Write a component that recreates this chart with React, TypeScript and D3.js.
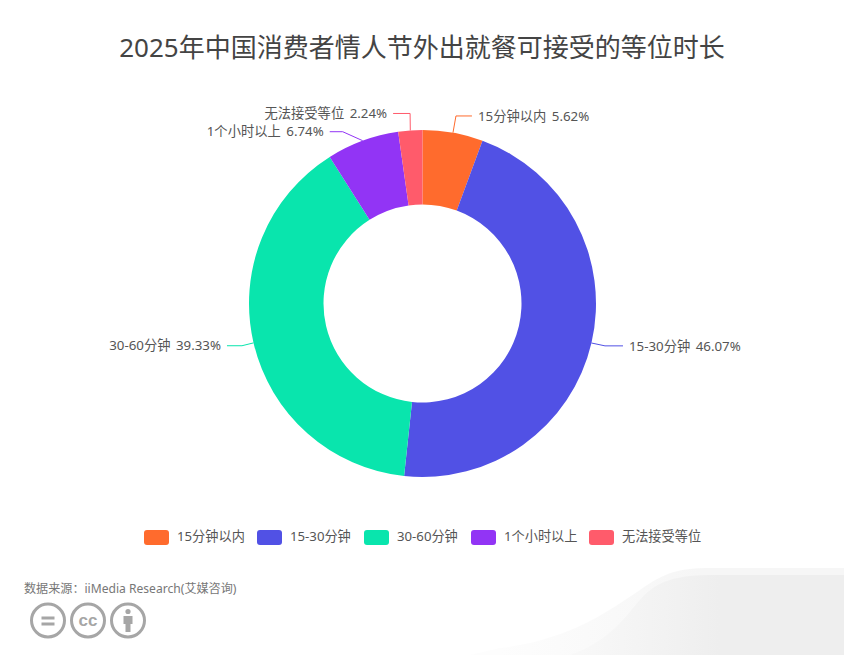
import { useEffect, useRef } from "react";
import * as d3 from "d3";

const title = "2025年中国消费者情人节外出就餐可接受的等位时长";
const source = "数据来源：iiMedia Research(艾媒咨询)";
const categories = ["15分钟以内", "15-30分钟", "30-60分钟", "1个小时以上", "无法接受等位"];
const shares = [5.62, 46.07, 39.33, 6.74, 2.24];
const colors = ["#ff6b2d", "#5151e5", "#09e5ad", "#9234f5", "#ff5b6b"];

export default function App() {
  const ref = useRef<SVGSVGElement>(null);

  useEffect(() => {
    if (!ref.current) return;
    d3.select(document.body).style("margin", "0");
    const svg = d3.select(ref.current);
    svg.selectAll("*").remove();

    const font = "'Noto Sans', 'Noto Sans CJK SC', sans-serif";
    const width = 844;
    const height = 655;
    const cx = 422.5;
    const cy = 303.5;
    const outer = 173.5;
    const inner = 99;

    svg.append("rect").attr("width", width).attr("height", height).attr("fill", "#fff");

    const defs = svg.append("defs");
    const grad = (id: string, from: string, to: string, x1: number, x2: number) => {
      const lg = defs
        .append("linearGradient")
        .attr("id", id)
        .attr("gradientUnits", "userSpaceOnUse")
        .attr("x1", x1)
        .attr("x2", x2)
        .attr("y1", 0)
        .attr("y2", 0);
      lg.append("stop").attr("offset", 0).attr("stop-color", from);
      lg.append("stop").attr("offset", 1).attr("stop-color", to);
    };
    grad("waveOuter", "#fdfdfd", "#f6f6f6", 500, 700);
    grad("waveInner", "#f8f8f8", "#eeeeee", 580, 720);

    // background wave, bottom right
    svg
      .append("path")
      .attr("d", "M500,648 C570,640 610,610 640,590 C665,572 680,568 710,568 L844,568 L844,655 L470,655 Z")
      .attr("fill", "url(#waveOuter)");
    svg
      .append("path")
      .attr("d", "M570,655 C600,645 620,625 633,608 C648,590 660,575 710,575 L844,575 L844,655 Z")
      .attr("fill", "url(#waveInner)");

    svg
      .append("text")
      .attr("x", width / 2)
      .attr("y", 57)
      .attr("text-anchor", "middle")
      .attr("font-family", font)
      .attr("font-size", 26)
      .attr("fill", "#444")
      .text(title);

    const pie = d3
      .pie<number>()
      .sort(null)
      .value((d) => d);
    const arcs = pie(shares);
    const arc = d3.arc<d3.PieArcDatum<number>>().innerRadius(inner).outerRadius(outer);

    const g = svg.append("g").attr("transform", `translate(${cx},${cy})`);
    g.selectAll("path.slice")
      .data(arcs)
      .join("path")
      .attr("class", "slice")
      .attr("d", arc)
      .attr("fill", (_, i) => colors[i]);

    // leader lines and labels; elbow nudged where labels were moved apart
    const nudge = [
      { r: 190.5, dx: 0, dy: 0, run: 16 },
      { r: 190.5, dx: -3, dy: -1, run: 18 },
      { r: 190.5, dx: 5, dy: -1, run: -15 },
      { r: 190.5, dx: -14, dy: 7, run: -13 },
      { r: 190.5, dx: 1, dy: 0, run: -17 },
    ];
    arcs.forEach((d, i) => {
      const mid = (d.startAngle + d.endAngle) / 2;
      const sx = Math.sin(mid) * outer;
      const sy = -Math.cos(mid) * outer;
      const n = nudge[i];
      const ex = Math.sin(mid) * n.r + n.dx;
      const ey = -Math.cos(mid) * n.r + n.dy;
      const tx = ex + n.run;
      g.append("path")
        .attr("d", `M${sx},${sy} L${ex},${ey} L${tx},${ey}`)
        .attr("fill", "none")
        .attr("stroke", colors[i])
        .attr("stroke-width", 1);
      g.append("text")
        .attr("x", tx + (n.run > 0 ? 6 : -6))
        .attr("y", ey)
        .attr("dy", "0.35em")
        .attr("text-anchor", n.run > 0 ? "start" : "end")
        .attr("font-family", font)
        .attr("font-size", 13.3)
        .attr("word-spacing", 2)
        .attr("fill", "#555")
        .text(`${categories[i]} ${shares[i].toFixed(2)}%`);
    });

    // legend
    const legendX = d3.scaleOrdinal<string, number>().domain(categories).range([144, 257, 364, 471, 589]);
    categories.forEach((c, i) => {
      const x = legendX(c);
      svg
        .append("rect")
        .attr("x", x)
        .attr("y", 530)
        .attr("width", 25)
        .attr("height", 15)
        .attr("rx", 3)
        .attr("fill", colors[i]);
      svg
        .append("text")
        .attr("x", x + 33)
        .attr("y", 536.5)
        .attr("dy", "0.35em")
        .attr("font-family", font)
        .attr("font-size", 13.2)
        .attr("fill", "#555")
        .text(c);
    });

    svg
      .append("text")
      .attr("x", 24)
      .attr("y", 593)
      .attr("font-family", font)
      .attr("font-size", 12.1)
      .attr("fill", "#777")
      .text(source);

    // licence icons
    const grey = "#a6a6a6";
    [48, 88, 128].forEach((x) => {
      svg
        .append("circle")
        .attr("cx", x)
        .attr("cy", 620.5)
        .attr("r", 16.5)
        .attr("fill", "#fff")
        .attr("stroke", grey)
        .attr("stroke-width", 3);
    });
    svg.append("rect").attr("x", 41.5).attr("y", 616.5).attr("width", 13).attr("height", 3).attr("fill", grey);
    svg.append("rect").attr("x", 41.5).attr("y", 622.5).attr("width", 13).attr("height", 3).attr("fill", grey);
    svg
      .append("text")
      .attr("x", 88)
      .attr("y", 626)
      .attr("text-anchor", "middle")
      .attr("font-family", "'Liberation Sans', sans-serif")
      .attr("font-weight", "bold")
      .attr("font-size", 17)
      .attr("fill", grey)
      .text("cc");
    svg.append("circle").attr("cx", 128).attr("cy", 611.5).attr("r", 2.6).attr("fill", grey);
    svg
      .append("path")
      .attr("d", "M123.5,616 h9 v8 h-2 v8 h-5 v-8 h-2 Z")
      .attr("fill", grey);
  }, []);

  return <svg ref={ref} width={844} height={655} style={{ display: "block" }} />;
}
